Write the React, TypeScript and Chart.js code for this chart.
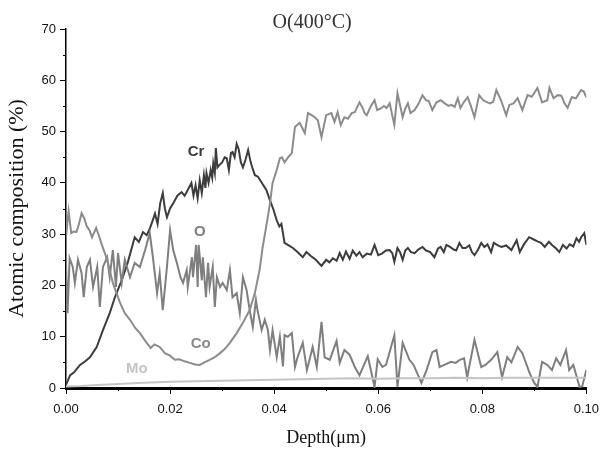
import React, { useEffect, useRef } from "react";
import { Chart, registerables } from "chart.js";

Chart.register(...registerables);

const chartTitle = "O(400°C)";
const xTitle = "Depth(μm)";
const yTitle = "Atomic composition (%)";

const crDepth = [0, 0.0008, 0.0015, 0.0027, 0.0037, 0.0046, 0.0059, 0.0071, 0.0084, 0.0094, 0.0107, 0.0119, 0.0132, 0.014, 0.0148, 0.0155, 0.016, 0.0166, 0.0171, 0.0176, 0.0181, 0.0186, 0.019, 0.0194, 0.02, 0.0206, 0.0214, 0.0222, 0.0228, 0.0234, 0.0241, 0.0245, 0.0249, 0.0253, 0.0257, 0.0261, 0.0265, 0.0268, 0.027, 0.0274, 0.0278, 0.0281, 0.0283, 0.0286, 0.0288, 0.0291, 0.0295, 0.03, 0.0305, 0.0309, 0.0313, 0.0317, 0.032, 0.0324, 0.0328, 0.0332, 0.0336, 0.034, 0.0345, 0.035, 0.0355, 0.0358, 0.0363, 0.0369, 0.0375, 0.0385, 0.0392, 0.0398, 0.0405, 0.041, 0.0414, 0.042, 0.0428, 0.0436, 0.0445, 0.0455, 0.0462, 0.047, 0.048, 0.0491, 0.05, 0.0506, 0.0513, 0.052, 0.0526, 0.0532, 0.0538, 0.0545, 0.0551, 0.0558, 0.0564, 0.057, 0.0578, 0.0586, 0.0593, 0.06, 0.0607, 0.0615, 0.0622, 0.0627, 0.0631, 0.0637, 0.0642, 0.0647, 0.0652, 0.0657, 0.0663, 0.067, 0.0677, 0.0685, 0.0692, 0.07, 0.0708, 0.0715, 0.072, 0.0726, 0.0731, 0.0738, 0.0745, 0.075, 0.0756, 0.0762, 0.0768, 0.0775, 0.078, 0.0785, 0.0792, 0.0798, 0.0804, 0.081, 0.0817, 0.0822, 0.083, 0.0837, 0.0846, 0.0856, 0.0866, 0.0872, 0.088, 0.089, 0.0898, 0.0906, 0.0913, 0.092, 0.0928, 0.0935, 0.0942, 0.0948, 0.0955, 0.0962, 0.0968, 0.0975, 0.0981, 0.0986, 0.099, 0.0996, 0.1];
const crValues = [0.6, 2.5, 3.0, 4.5, 5.2, 6, 8, 11.3, 14.6, 17.7, 21, 24.6, 29.4, 28.5, 30.4, 29.8, 30.8, 32.5, 34, 32, 36, 38, 35, 33.3, 35, 36, 37.5, 38.2, 37.5, 38.6, 40, 37.5, 39.5, 37, 40.5, 38, 41.5, 39, 41.9, 40, 42.5, 41, 43.8, 42, 46.8, 43, 43.5, 44, 45, 44.8, 42.5, 45.8, 46, 45, 47.6, 46.5, 44, 43, 44.5, 46.4, 44, 43, 41.5, 41.2, 40.2, 38.6, 36.6, 35, 32.7, 31.5, 32, 28.3, 27.8, 27.3, 26.5, 25.5, 26.5, 25.8, 25, 23.8, 25, 24.5, 25.3, 24.8, 26.3, 25, 26.6, 25.2, 26.8, 25.8, 26.5, 25.5, 26.2, 26, 27.9, 25.9, 26.2, 26.8, 26.9, 26.3, 24.6, 27.3, 26.5, 25, 26.8, 27.3, 26.5, 26.3, 27, 27.5, 26.8, 26.5, 25.5, 27.2, 27.5, 26.5, 27.9, 27.5, 27, 26.8, 28.3, 27.3, 27.3, 27.8, 26.5, 25.9, 27, 28.3, 27.5, 28, 26.5, 28.3, 27.8, 27.5, 27.8, 26.9, 28.8, 26.5, 28, 29.4, 29, 28.6, 28.3, 27.5, 28.5, 27.8, 27.2, 26.5, 27.9, 27.2, 28, 27.6, 29.2, 28.5, 29.4, 30.2, 27.9];

const oDepth = [0, 0.0003, 0.0007, 0.0013, 0.0017, 0.0023, 0.003, 0.0034, 0.004, 0.0046, 0.0052, 0.006, 0.0065, 0.0071, 0.0079, 0.0084, 0.009, 0.0096, 0.01, 0.0107, 0.0113, 0.0123, 0.0132, 0.0142, 0.0152, 0.0161, 0.0167, 0.0175, 0.018, 0.0186, 0.0194, 0.02, 0.0206, 0.0213, 0.022, 0.0225, 0.0232, 0.0234, 0.0242, 0.0244, 0.025, 0.0253, 0.0255, 0.0261, 0.0263, 0.0269, 0.0273, 0.0276, 0.0282, 0.0286, 0.029, 0.0296, 0.0301, 0.0309, 0.0315, 0.032, 0.0328, 0.0334, 0.034, 0.0347, 0.0353, 0.0359, 0.0365, 0.0368, 0.0376, 0.0382, 0.0388, 0.0392, 0.0397, 0.0405, 0.0411, 0.0417, 0.042, 0.0426, 0.0434, 0.044, 0.0445, 0.0455, 0.0463, 0.0468, 0.0474, 0.0482, 0.0491, 0.0497, 0.0507, 0.052, 0.0526, 0.0535, 0.0545, 0.0555, 0.0564, 0.058, 0.0593, 0.0599, 0.0608, 0.0615, 0.0631, 0.0637, 0.0647, 0.066, 0.0668, 0.0683, 0.0693, 0.0704, 0.0712, 0.0718, 0.0727, 0.074, 0.0749, 0.0757, 0.0765, 0.0771, 0.0785, 0.0798, 0.0806, 0.0817, 0.0829, 0.0838, 0.0848, 0.0856, 0.0868, 0.0877, 0.0891, 0.09, 0.0906, 0.0915, 0.0925, 0.0934, 0.0942, 0.095, 0.0961, 0.0967, 0.0975, 0.0987, 0.0992, 0.1];
const oValues = [24.4, 14.6, 25.3, 23.6, 20.5, 25, 22.4, 17.7, 23.6, 25, 19.7, 23.6, 15.8, 23.6, 25.5, 21.6, 26.9, 19.7, 26.3, 20.5, 25, 21.6, 24.4, 23.6, 26.9, 30.2, 25.5, 18.5, 22.4, 15.2, 23.6, 30.8, 26.9, 24.4, 21.6, 20.5, 23, 19.7, 25.5, 21.6, 27.9, 19.7, 27.9, 21, 25.5, 17.7, 24.4, 19.7, 23.6, 15.8, 21.6, 19.7, 20.5, 19.1, 23, 17.7, 18.5, 14.6, 21.6, 19.1, 15.2, 11.9, 17.2, 15.2, 11.3, 13.3, 11.3, 7.4, 11.3, 6, 10, 4.2, 10.3, 10, 10.7, 4.1, 6, 8.8, 3.5, 5.5, 8, 4.1, 12.9, 6, 5.5, 9.2, 4.9, 7.4, 6.5, 4.1, 2.5, 6.2, 0.2, 5.6, 4.1, 4.5, 10.3, 0.2, 8.8, 5.5, 4.5, 1, 3.5, 7, 7.4, 4.1, 4.5, 5.1, 4.9, 5.5, 5.8, 2.1, 9.4, 4.1, 4.5, 5.5, 7, 2.1, 6, 5, 8, 6.8, 2.9, 1, 0.2, 5.1, 4.5, 3.5, 5.8, 4.5, 7.4, 3.5, 4.5, 0.2, 0.3, 3.5];

const coDepth = [0, 0.0005, 0.001, 0.0015, 0.002, 0.0025, 0.003, 0.0035, 0.004, 0.0045, 0.005, 0.0058, 0.0064, 0.0069, 0.0079, 0.009, 0.0097, 0.0104, 0.0113, 0.0123, 0.0133, 0.0142, 0.0155, 0.0163, 0.017, 0.018, 0.019, 0.02, 0.0209, 0.0218, 0.0228, 0.0238, 0.0248, 0.0257, 0.0266, 0.0276, 0.0286, 0.0296, 0.0305, 0.0315, 0.0328, 0.034, 0.0353, 0.0363, 0.0372, 0.0378, 0.0386, 0.0392, 0.0397, 0.0405, 0.0411, 0.0415, 0.042, 0.0427, 0.0434, 0.044, 0.0449, 0.0455, 0.0459, 0.0465, 0.0472, 0.0478, 0.0484, 0.0491, 0.05, 0.051, 0.0516, 0.0522, 0.0528, 0.0535, 0.0542, 0.0549, 0.0555, 0.0564, 0.0569, 0.0574, 0.0578, 0.0586, 0.0593, 0.0598, 0.0605, 0.0611, 0.0616, 0.0622, 0.0631, 0.0637, 0.0647, 0.0652, 0.0657, 0.0662, 0.067, 0.0678, 0.0685, 0.0692, 0.0697, 0.0704, 0.0712, 0.072, 0.0728, 0.0735, 0.0741, 0.0747, 0.0753, 0.0758, 0.0765, 0.0772, 0.0778, 0.0785, 0.0794, 0.0802, 0.081, 0.0815, 0.0821, 0.0827, 0.0836, 0.0846, 0.0852, 0.086, 0.0868, 0.0877, 0.0887, 0.0895, 0.0906, 0.0915, 0.0925, 0.0929, 0.0937, 0.0945, 0.0952, 0.0958, 0.0964, 0.0972, 0.098, 0.099, 0.0995, 0.1];
const coValues = [29.5, 34.5, 30.2, 30.5, 30.4, 32, 34.1, 33.1, 31.5, 30.8, 29.4, 31.2, 29.5, 27.9, 25, 20.5, 18.5, 16.6, 14.6, 13.3, 11.7, 10.7, 8.8, 7.8, 8.5, 8, 6.8, 6.3, 5.5, 5.6, 5.2, 4.9, 4.6, 4.5, 5, 5.5, 6, 6.8, 7.6, 8.8, 10.7, 12.7, 15.2, 18.5, 23, 27.5, 32.2, 36, 40, 42.5, 44.8, 45, 44, 45, 45.8, 50.9, 51.7, 50.5, 49.7, 53.6, 53.2, 52.8, 52.2, 48.9, 53.2, 53.6, 51.9, 53.8, 51.3, 52.8, 52.5, 53.6, 53.8, 55.7, 54.8, 53.6, 53.2, 55, 56.1, 54.2, 54.5, 55, 54.6, 55.5, 51.3, 57.5, 52.8, 54.5, 55.5, 53.6, 54.2, 55.5, 57.1, 56.1, 56, 54.2, 55.7, 56.1, 55.5, 55, 55.2, 54.8, 56.5, 54.6, 55.8, 56.7, 55, 52.8, 57.1, 56.1, 55.7, 55.5, 55.8, 58.1, 56.1, 53.2, 55.2, 55.5, 56.5, 54.2, 57.1, 56.8, 58.5, 55.7, 56.1, 58.5, 56.5, 57.1, 57, 55.5, 54.6, 56.7, 56.5, 58.1, 57.8, 56.7];

const moDepth = [0, 0.003, 0.006, 0.01, 0.015, 0.02, 0.025, 0.03, 0.035, 0.04, 0.045, 0.05, 0.055, 0.06, 0.065, 0.07, 0.075, 0.08, 0.085, 0.09, 0.095, 0.1];
const moValues = [0.3, 0.4, 0.6, 0.8, 1.0, 1.2, 1.3, 1.4, 1.5, 1.6, 1.7, 1.8, 1.9, 1.8, 1.9, 1.9, 2.0, 1.9, 2.0, 2.0, 2.0, 2.0];

const seriesNames = ["Cr", "O", "Co", "Mo"];
const seriesColors = ["#3d3d3d", "#7f7f7f", "#8c8c8c", "#c4c4c4"];
const labelColors = ["#3a3a3a", "#7f7f7f", "#8a8a8a", "#c4c4c4"];
const labelDepth = [0.0250, 0.0257, 0.0259, 0.0136];
const labelValue = [46.0, 30.4, 8.6, 3.7];

const yMinorTicks = [5, 15, 25, 35, 45, 55, 65];
const xMajorTicks = [0, 0.02, 0.04, 0.06, 0.08, 0.1];
const xMinorTicks = [0.01, 0.03, 0.05, 0.07, 0.09];

function toPoints(xs: number[], ys: number[]) {
  return xs.map((x, i) => ({ x, y: ys[i] }));
}

const decorPlugin = {
  id: "decor",
  afterDraw(chart: any) {
    const ctx = chart.ctx;
    const xs = chart.scales.x;
    const ys = chart.scales.y;
    const area = chart.chartArea;
    ctx.save();
    ctx.strokeStyle = "#000";
    ctx.lineWidth = 1;
    yMinorTicks.forEach((v) => {
      const py = Math.round(ys.getPixelForValue(v)) + 0.5;
      ctx.beginPath();
      ctx.moveTo(area.left - 3, py);
      ctx.lineTo(area.left, py);
      ctx.stroke();
    });
    xMinorTicks.forEach((v) => {
      const px = Math.round(xs.getPixelForValue(v)) + 0.5;
      ctx.beginPath();
      ctx.moveTo(px, area.bottom);
      ctx.lineTo(px, area.bottom + 3);
      ctx.stroke();
    });
    xMajorTicks.forEach((v) => {
      const px = Math.round(xs.getPixelForValue(v)) + 0.5;
      ctx.beginPath();
      ctx.moveTo(px, area.bottom);
      ctx.lineTo(px, area.bottom + 6);
      ctx.stroke();
    });
    ctx.font = "bold 15px 'Liberation Sans', Arial, sans-serif";
    ctx.textAlign = "center";
    ctx.textBaseline = "middle";
    seriesNames.forEach((n, i) => {
      ctx.fillStyle = labelColors[i];
      ctx.fillText(n, xs.getPixelForValue(labelDepth[i]), ys.getPixelForValue(labelValue[i]));
    });
    ctx.fillStyle = "#333";
    ctx.font = "20px 'Liberation Serif', 'Times New Roman', serif";
    ctx.fillText(chartTitle, (area.left + area.right) / 2 - 14, 23);
    ctx.restore();
  },
};

export default function App() {
  const ref = useRef<HTMLCanvasElement | null>(null);
  useEffect(() => {
    if (!ref.current) return;
    const allDepth = [crDepth, oDepth, coDepth, moDepth];
    const allValues = [crValues, oValues, coValues, moValues];
    const order = [3, 2, 1, 0];
    const datasets = order.map((i) => ({
      label: seriesNames[i],
      data: toPoints(allDepth[i], allValues[i]),
      borderColor: seriesColors[i],
      backgroundColor: seriesColors[i],
      borderWidth: 2,
      pointRadius: 0,
      tension: 0,
      fill: false,
    }));
    const chart = new Chart(ref.current, {
      type: "line",
      data: { datasets },
      plugins: [decorPlugin],
      options: {
        animation: false,
        responsive: false,
        layout: { padding: { left: 0, right: 17, top: 29, bottom: 0 } },
        plugins: { legend: { display: false }, tooltip: { enabled: false }, title: { display: false } },
        scales: {
          x: {
            type: "linear",
            min: 0,
            max: 0.1,
            afterFit: (s: any) => { s.height = 61; },
            border: { display: true, color: "#000", width: 3 },
            grid: { display: true, drawOnChartArea: false, drawTicks: true, tickLength: 9, color: "rgba(0,0,0,0)", tickColor: "rgba(0,0,0,0)", tickWidth: 1 },
            ticks: {
              stepSize: 0.02,
              padding: 5,
              color: "#111",
              font: { family: "'Liberation Sans', Arial, sans-serif", size: 13 },
              callback: (v: any) => Number(v).toFixed(2),
              maxRotation: 0,
            },
            title: {
              display: true,
              text: xTitle,
              color: "#111",
              font: { family: "'Liberation Serif', 'Times New Roman', serif", size: 18 },
              padding: { top: 0, bottom: 0 },
            },
          },
          y: {
            min: 0,
            max: 70,
            afterFit: (s: any) => { s.width = 66; },
            border: { display: true, color: "#000", width: 1.5 },
            grid: { display: true, drawOnChartArea: false, drawTicks: true, tickLength: 6, color: "#000", tickWidth: 1 },
            ticks: {
              stepSize: 10,
              padding: 4,
              color: "#111",
              font: { family: "'Liberation Sans', Arial, sans-serif", size: 13 },
            },
            title: {
              display: true,
              text: yTitle,
              color: "#111",
              font: { family: "'Liberation Serif', 'Times New Roman', serif", size: 22 },
              padding: { top: 4, bottom: 0 },
            },
          },
        },
      },
    } as any);
    return () => chart.destroy();
  }, []);
  return (
    <div style={{ position: "absolute", left: 0, top: 0, width: 604, height: 449, background: "#fff" }}>
      <canvas ref={ref} width={604} height={449} style={{ display: "block" }} />
    </div>
  );
}
